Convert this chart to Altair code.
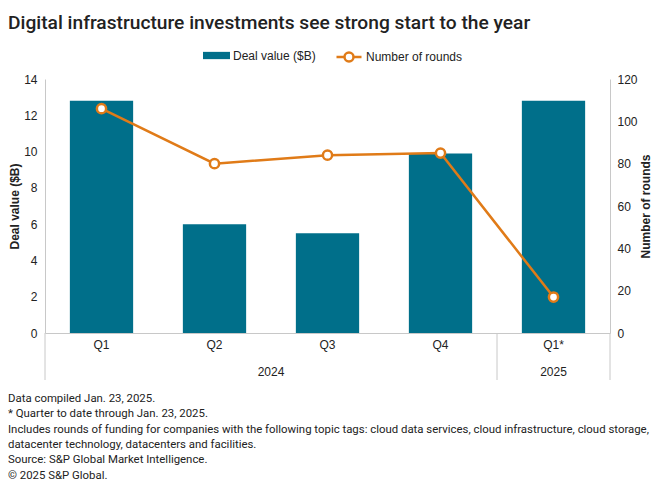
import altair as alt
import pandas as pd

# ---- data ----
quarters = ["Q1", "Q2", "Q3", "Q4", "Q1*"]
years = ["2024", "2024", "2024", "2024", "2025"]
deal_value = [12.8, 6.0, 5.5, 9.9, 12.8]
rounds = [106, 80, 84, 85, 17]

left_ticks = [0, 2, 4, 6, 8, 10, 12, 14]
right_ticks = [0, 20, 40, 60, 80, 100, 120]

bar_label = "Deal value ($B)"
line_label = "Number of rounds"
title_text = "Digital infrastructure investments see strong start to the year"
notes = [
    "Data compiled Jan. 23, 2025.",
    "* Quarter to date through Jan. 23, 2025.",
    "Includes rounds of funding for companies with the following topic tags: cloud data services, cloud infrastructure, cloud storage,",
    "datacenter technology, datacenters and facilities.",
    "Source: S&P Global Market Intelligence.",
    "\u00a9 2025 S&P Global.",
]

TEAL = "#006f8a"
ORANGE = "#e07b18"
GRAY = "#c8c8c8"
TEXT = "#222222"
AXIS_FONT = "Liberation Sans"
NOTE_FONT = "Roboto"

W, H = 565, 254

keys = [f"{y} {q}" for y, q in zip(years, quarters)]
df = pd.DataFrame({
    "key": keys, "quarter": quarters, "year": years,
    "deal": deal_value, "rounds": rounds,
    "bar_series": bar_label, "line_series": line_label,
})

# dividers between year groups
start_keys = [k for i, k in enumerate(keys) if i == 0 or years[i] != years[i - 1]]
end_keys = [keys[-1]]

# year label anchors
year_even, year_odd = [], []
for y in dict.fromkeys(years):
    ks = [k for k, yy in zip(keys, years) if yy == y]
    n = len(ks)
    if n % 2 == 0:
        year_even.append({"key": ks[n // 2], "year": y})
    else:
        year_odd.append({"key": ks[n // 2], "year": y})

xscale = alt.Scale(domain=keys, paddingInner=0, paddingOuter=0)
x_axis = alt.Axis(title=None, labelExpr="split(datum.label, ' ')[1]", ticks=False,
                  domainColor=GRAY, labelPadding=6, labelAngle=0, labelFontSize=12,
                  labelColor=TEXT, labelFont=AXIS_FONT, grid=False)

bars = alt.Chart(df).mark_bar(width=alt.RelativeBandSize(0.56)).encode(
    x=alt.X("key:N", scale=xscale, axis=x_axis),
    y=alt.Y("deal:Q", scale=alt.Scale(domain=[0, 14]),
            axis=alt.Axis(values=left_ticks, title=bar_label, grid=False, ticks=False,
                          domainColor=GRAY, labelPadding=8, titlePadding=2,
                          labelFontSize=12, labelColor=TEXT, labelFont=AXIS_FONT,
                          titleFontSize=12, titleFontWeight="bold", titleColor=TEXT,
                          titleFont=AXIS_FONT)),
    color=alt.Color("bar_series:N", scale=alt.Scale(domain=[bar_label], range=[TEAL]),
                    legend=alt.Legend(orient="none", legendX=158, legendY=-37, title=None,
                                      symbolType="M-1,-0.27H1V0.27H-1Z", symbolSize=729,
                                      symbolStrokeWidth=0, labelOffset=3, labelFontSize=12,
                                      labelColor=TEXT, labelFont=AXIS_FONT)),
)

right_axis = alt.Axis(orient="right", values=right_ticks, title=line_label, grid=False,
                      ticks=False, domainColor=GRAY, labelPadding=7, titlePadding=15,
                      titleAngle=270, labelFontSize=12, labelColor=TEXT, labelFont=AXIS_FONT,
                      titleFontSize=12, titleFontWeight="bold", titleColor=TEXT,
                      titleFont=AXIS_FONT)
yscale_r = alt.Scale(domain=[0, 120])

line = alt.Chart(df).mark_line(strokeWidth=2.5).encode(
    x=alt.X("key:N", scale=xscale, axis=x_axis),
    y=alt.Y("rounds:Q", scale=yscale_r, axis=right_axis),
    stroke=alt.Stroke("line_series:N", scale=alt.Scale(domain=[line_label], range=[ORANGE]),
                      legend=alt.Legend(orient="none", legendX=290, legendY=-36, title=None,
                                        symbolType="M-1,0H-0.36M0.36,0H1M-0.36,0A0.36,0.36,0,1,1,0.36,0A0.36,0.36,0,1,1,-0.36,0Z",
                                        symbolSize=625, symbolStrokeWidth=2.5,
                                        symbolFillColor="white", labelOffset=3,
                                        labelFontSize=12, labelColor=TEXT, labelFont=AXIS_FONT)),
)
points = alt.Chart(df).mark_point(filled=True, fill="white", stroke=ORANGE, strokeWidth=2.5,
                                  size=85, opacity=1).encode(
    x=alt.X("key:N", scale=xscale, axis=x_axis),
    y=alt.Y("rounds:Q", scale=yscale_r, axis=right_axis),
)
line_layer = alt.layer(line, points)

rule_start = alt.Chart(pd.DataFrame({"key": start_keys})).mark_rule(color=GRAY, strokeWidth=1).encode(
    x=alt.X("key:N", scale=xscale, axis=x_axis, bandPosition=0),
    y=alt.value(H), y2=alt.value(H + 47),
)
rule_end = alt.Chart(pd.DataFrame({"key": end_keys})).mark_rule(color=GRAY, strokeWidth=1).encode(
    x=alt.X("key:N", scale=xscale, axis=x_axis, bandPosition=1),
    y=alt.value(H), y2=alt.value(H + 47),
)

year_style = dict(fontSize=12, baseline="middle", color=TEXT, font=AXIS_FONT)
years_even = alt.Chart(pd.DataFrame(year_even)).mark_text(**year_style).encode(
    x=alt.X("key:N", scale=xscale, axis=x_axis, bandPosition=0),
    y=alt.value(H + 39), text="year:N",
)
years_odd = alt.Chart(pd.DataFrame(year_odd)).mark_text(**year_style).encode(
    x=alt.X("key:N", scale=xscale, axis=x_axis, bandPosition=0.5),
    y=alt.value(H + 39), text="year:N",
)

footer = alt.Chart(pd.DataFrame({"t": ["\n".join(notes)]})).mark_text(
    align="left", baseline="top", lineBreak="\n", lineHeight=15.3, fontSize=11.4,
    font=NOTE_FONT, color=TEXT,
).encode(x=alt.value(-37), y=alt.value(H + 60), text="t:N")

chart = alt.layer(
    bars, line_layer, rule_start, rule_end, years_even, years_odd, footer
).resolve_scale(y="independent", color="independent", stroke="independent").properties(
    width=W, height=H,
    autosize=alt.AutoSizeParams(type="none"),
    padding={"left": 37, "top": 71, "right": 42, "bottom": 149},
    title=alt.TitleParams(title_text, anchor="start", frame="group", dx=-37, offset=9,
                          fontSize=19.2, fontWeight=500, font="Roboto", color=TEXT),
).configure_view(stroke=None)

chart.save("out.html", embed_options={"renderer": "svg", "actions": False})
